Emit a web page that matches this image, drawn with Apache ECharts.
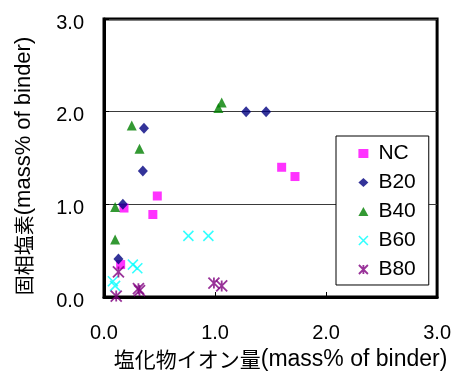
<!DOCTYPE html>
<html>
<head>
<meta charset="utf-8">
<script src="https://cdn.jsdelivr.net/npm/echarts@6/dist/echarts.min.js"></script>
<style>
html,body{margin:0;padding:0;background:#fff;}
#chart{width:454px;height:379px;}
</style>
</head>
<body>
<div id="chart"></div>
<script>
// Data: [chloride ion (mass% of binder), fixed chlorine (mass% of binder)]
const seriesNames = ['NC', 'B20', 'B40', 'B60', 'B80'];
const NC  = [[0.15,0.35],[0.18,0.96],[0.44,0.89],[0.48,1.09],[1.60,1.40],[1.72,1.30]];
const B20 = [[0.13,0.41],[0.17,1.00],[0.35,1.36],[0.36,1.82],[1.28,2.00],[1.46,2.00]];
const B40 = [[0.10,0.62],[0.10,0.97],[0.25,1.85],[0.32,1.60],[1.03,2.04],[1.06,2.10]];
const B60 = [[0.08,0.17],[0.10,0.12],[0.26,0.35],[0.30,0.31],[0.76,0.66],[0.94,0.66]];
const B80 = [[0.11,0.01],[0.13,0.27],[0.31,0.09],[0.32,0.07],[0.99,0.15],[1.06,0.12]];
const xTickLabels = ['0.0','1.0','2.0','3.0'];
const yTickLabels = ['0.0','1.0','2.0','3.0'];
const xTitleJa = '塩化物イオン量';
const yTitleJa = '固相塩素';
const titleUnit = '(mass% of binder)';

const FONT = '"Liberation Sans", Arial, "Noto Sans CJK JP", sans-serif';
const X_PATH = 'path://M0,0L10,10M10,0L0,10';
const AST_PATH = 'path://M0,0L10,10M10,0L0,10M5,0L5,10';

const styles = {
  NC:  {symbol:'rect', size:9, itemStyle:{color:'#FF00FF'}},
  B20: {symbol:'diamond', size:[10,11], itemStyle:{color:'#000080'}},
  B40: {symbol:'triangle', size:[10,10], itemStyle:{color:'#008000'}},
  B60: {symbol:X_PATH, size:10, itemStyle:{color:'#00FFFF', borderColor:'#00FFFF', borderWidth:1.6}},
  B80: {symbol:AST_PATH, size:11, itemStyle:{color:'#800080', borderColor:'#800080', borderWidth:1.8}}
};
const dataMap = {NC, B20, B40, B60, B80};

const chart = echarts.init(document.getElementById('chart'), null, {renderer:'canvas'});

const axisCommon = {
  type:'value', min:0, max:3, interval:1,
  axisLine:{show:true, onZero:false, lineStyle:{color:'#000', width:3}},
  axisTick:{show:true, inside:true, length:5, lineStyle:{color:'#000', width:1}},
  nameLocation:'middle'
};

chart.setOption({
  animation:false,
  backgroundColor:'#fff',
  grid:{left:104, right:16, top:19, bottom:82, show:true, borderColor:'#000', borderWidth:3, backgroundColor:'transparent'},
  xAxis:Object.assign({}, axisCommon, {
    position:'bottom',
    axisLabel:{margin:26, fontSize:20, color:'#000', fontFamily:FONT,
      formatter:(v)=>xTickLabels[Math.round(v)]},
    splitLine:{show:false},
    name:'{c|' + xTitleJa + '}{l|' + titleUnit + '}',
    nameGap:49,
    nameTextStyle:{padding:[0,0,0,20], rich:{
      c:{fontSize:21, fontFamily:'"Noto Sans CJK JP", sans-serif', color:'#000'},
      l:{fontSize:23, fontFamily:FONT, color:'#000'}
    }}
  }),
  yAxis:Object.assign({}, axisCommon, {
    position:'left',
    axisLabel:{margin:20, color:'#000',
      formatter:(v)=>'{t|' + yTickLabels[Math.round(v)] + '}',
      rich:{t:{fontSize:20, fontFamily:FONT, color:'#000', padding:[8,0,0,0]}}},
    splitLine:{show:true, lineStyle:{color:'#3a3a3a', width:1}},
    name:'{c|' + yTitleJa + '}{l|' + titleUnit + '}',
    nameGap:69,
    nameTextStyle:{padding:[0,16,0,0], rich:{
      c:{fontSize:20, fontFamily:'"Noto Sans CJK JP", sans-serif', color:'#000'},
      l:{fontSize:22, fontFamily:FONT, color:'#000'}
    }}
  }),
  legend:{
    orient:'vertical', left:336, top:136,
    backgroundColor:'#fff', borderColor:'#000', borderWidth:1,
    padding:[7,13,5,22], itemGap:8, itemWidth:10, itemHeight:9,
    textStyle:{fontSize:21, color:'#000', fontFamily:FONT, padding:[0,0,0,5]},
    data:seriesNames.map(n=>({name:n, icon:styles[n].symbol, itemStyle:Object.assign({}, styles[n].itemStyle)}))
  },
  series:seriesNames.map(n=>({
    name:n, type:'scatter',
    symbol:styles[n].symbol, symbolSize:styles[n].size,
    itemStyle:styles[n].itemStyle,
    emphasis:{disabled:true},
    data:dataMap[n]
  }))
});
</script>
</body>
</html>
